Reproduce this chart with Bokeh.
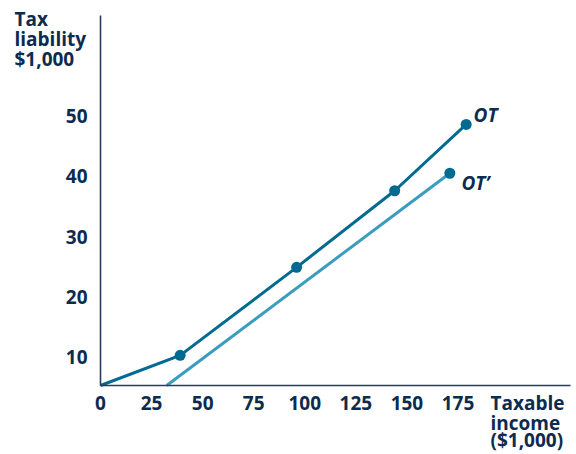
from bokeh.plotting import figure
from bokeh.models import Range1d, FixedTicker, Label, LinearAxis
from bokeh.embed import file_html
from bokeh.resources import INLINE

# Data
ot_income = [0, 39, 96, 144, 179]
ot_tax = [5.3, 10.3, 24.9, 37.6, 48.6]
ot_dot_income = [39, 96, 144, 179]
ot_dot_tax = [10.3, 24.9, 37.6, 48.6]
otp_income = [32.4, 171]
otp_tax = [5.3, 40.5]
x_ticks = [0, 25, 50, 75, 100, 125, 150, 175]
y_ticks = [10, 20, 30, 40, 50]

TXT = "#0d2b4e"
AX = "#2a3b5a"
C_OT = "#006a90"
C_OTP = "#3a9dc0"
FONT = "Open Sans"

Y0 = 5.3
p = figure(width=576, height=454, output_backend="svg", toolbar_location=None,
           x_range=Range1d(-48.95, 233.0), y_range=Range1d(-6.14, 69.15),
           x_axis_location=None, y_axis_location=None,
           min_border_left=0, min_border_top=0, min_border_right=0, min_border_bottom=0)
p.outline_line_color = None
p.background_fill_color = "white"
p.border_fill_color = "white"
p.grid.visible = False

xaxis = LinearAxis(fixed_location=Y0, bounds=(0, 230), ticker=FixedTicker(ticks=x_ticks))
yaxis = LinearAxis(fixed_location=0, bounds=(Y0, 66.7), ticker=FixedTicker(ticks=y_ticks))
for ax in (xaxis, yaxis):
    ax.axis_line_color = AX
    ax.axis_line_width = 1.6
    ax.major_tick_line_color = None
    ax.minor_tick_line_color = None
    ax.major_label_text_font = FONT
    ax.major_label_text_font_style = "bold"
    ax.major_label_text_font_size = "19px"
    ax.major_label_text_color = TXT
xaxis.major_label_standoff = 4
yaxis.major_label_standoff = 7
p.add_layout(xaxis, "below")
p.add_layout(yaxis, "left")

p.line(otp_income, otp_tax, line_color=C_OTP, line_width=3)
p.line(ot_income, ot_tax, line_color=C_OT, line_width=3)
p.scatter(ot_dot_income, ot_dot_tax, size=11, fill_color=C_OT, line_color=None)
p.scatter([otp_income[-1]], [otp_tax[-1]], size=11, fill_color=C_OT, line_color=None)

DY = 1.3  # baseline correction

def lab(x, y, t, style="bold"):
    p.add_layout(Label(x=x, y=y + DY, text=t, text_font=FONT, text_font_style=style,
                       text_font_size="19px", text_color=TXT, text_baseline="alphabetic",
                       text_align="left"))

lab(-42.1, 64.84, "Tax")
lab(-42.1, 61.52, "liability")
lab(-42.1, 58.2, "$1,000")
lab(190.9, 1.15, "Taxable")
lab(190.9, -2.16, "income")
lab(190.9, -5.0, "($1,000)")
lab(182.6, 48.9, "OT", "bold italic")
lab(176.7, 37.6, "OT\u2019", "bold italic")

open("out.html", "w").write(file_html(p, INLINE))
